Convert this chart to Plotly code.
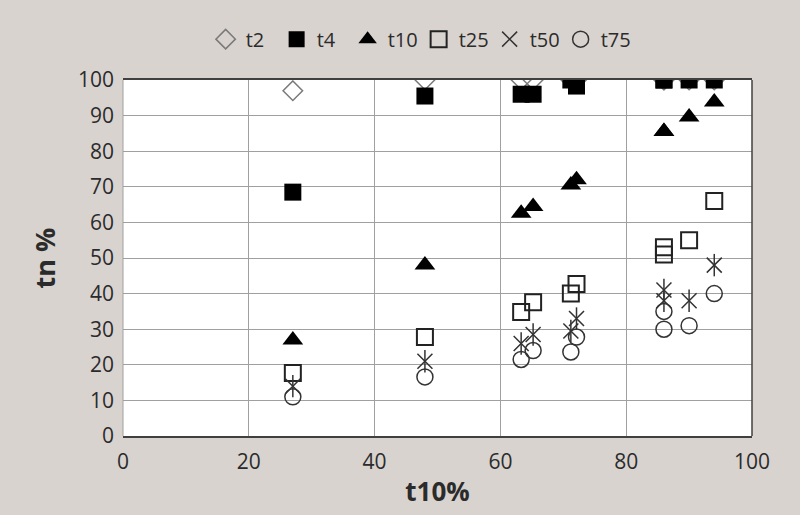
import plotly.graph_objects as go

# t10% of each sample (x axis)
t10_pct = [27, 48, 63.3, 65.2, 71.2, 72.1, 86, 86, 90, 94]

# tn % values per series
t2 = [97, 100, 100, 100, 100, 100, 100, 100, 100, 100]
t4 = [68.5, 95.5, 96, 96, 100, 98.3, 100, 100, 100, 100]
t10 = [27, 48, 62.6, 64.5, 70.5, 72, 85.5, 85.5, 89.6, 93.8]
t25 = [17.7, 27.8, 34.8, 37.6, 40, 42.7, 53, 51, 55, 66]
t50 = [14, 21, 26, 28.5, 29.5, 33, 41, 38, 38, 48]
t75 = [11, 16.6, 21.5, 24, 23.6, 27.8, 35, 30, 31, 40]

x_ticks = [0, 20, 40, 60, 80, 100]
y_ticks = [0, 10, 20, 30, 40, 50, 60, 70, 80, 90, 100]

FONT = "Open Sans"
BG = "#d9d3cf"

fig = go.Figure()
fig.add_trace(go.Scatter(x=t10_pct, y=t2, mode="markers", name="t2",
                         marker=dict(symbol="diamond-open", size=15, color="#7a7a7a", line=dict(width=1.5))))
fig.add_trace(go.Scatter(x=t10_pct, y=t4, mode="markers", name="t4",
                         marker=dict(symbol="square", size=17, color="#000000")))
fig.add_trace(go.Scatter(x=t10_pct, y=t10, mode="markers", name="t10",
                         marker=dict(symbol="triangle-up", size=18, color="#000000")))
fig.add_trace(go.Scatter(x=t10_pct, y=t25, mode="markers", name="t25",
                         marker=dict(symbol="square-open", size=16, color="#222222", line=dict(width=2))))
fig.add_trace(go.Scatter(x=t10_pct, y=t50, mode="markers", name="t50", legendgroup="t50",
                         marker=dict(symbol="x-thin-open", size=15, color="#333333", line=dict(width=1.5))))
fig.add_trace(go.Scatter(x=t10_pct, y=t50, mode="markers", name="t50", legendgroup="t50", showlegend=False,
                         marker=dict(symbol="line-ns-open", size=16, color="#333333", line=dict(width=1.5))))
fig.add_trace(go.Scatter(x=t10_pct, y=t75, mode="markers", name="t75",
                         marker=dict(symbol="circle-open", size=16, color="#333333", line=dict(width=1.5))))

fig.update_layout(
    width=800, height=515,
    paper_bgcolor=BG, plot_bgcolor="#ffffff",
    margin=dict(l=123, r=48, t=80, b=79),
    font=dict(family=FONT, size=21, color="#2b2b2b"),
    legend=dict(orientation="h", x=0.47, xanchor="center", y=1.06, yanchor="bottom",
                bgcolor="rgba(0,0,0,0)", font=dict(size=20), entrywidth=26, itemwidth=30,
                tracegroupgap=0),
    xaxis=dict(range=[0, 100], tickvals=x_ticks, showgrid=True, gridcolor="#a0a0a0", gridwidth=1,
               zeroline=False, showline=True, mirror=True, linecolor="#404040", linewidth=1.5,
               ticks="", ticklabelstandoff=6,
               title=dict(text="<b>t10%</b>", font=dict(size=26), standoff=9)),
    yaxis=dict(range=[0, 100], tickvals=y_ticks, showgrid=True, gridcolor="#a0a0a0", gridwidth=1,
               zeroline=False, showline=False, ticks="", ticklabelstandoff=8,
               title=dict(text="<b>tn %</b>", font=dict(size=27), standoff=14)),
)
fig.add_shape(type="line", xref="paper", yref="paper", x0=1, x1=1, y0=0, y1=1,
              line=dict(color="#404040", width=1.5))
fig.add_shape(type="line", xref="paper", yref="paper", x0=0, x1=0, y0=0, y1=1,
              line=dict(color="#a0a0a0", width=1))

fig.write_html("out.html", config={"displayModeBar": False},
               post_script="document.body.style.margin='0px';")
